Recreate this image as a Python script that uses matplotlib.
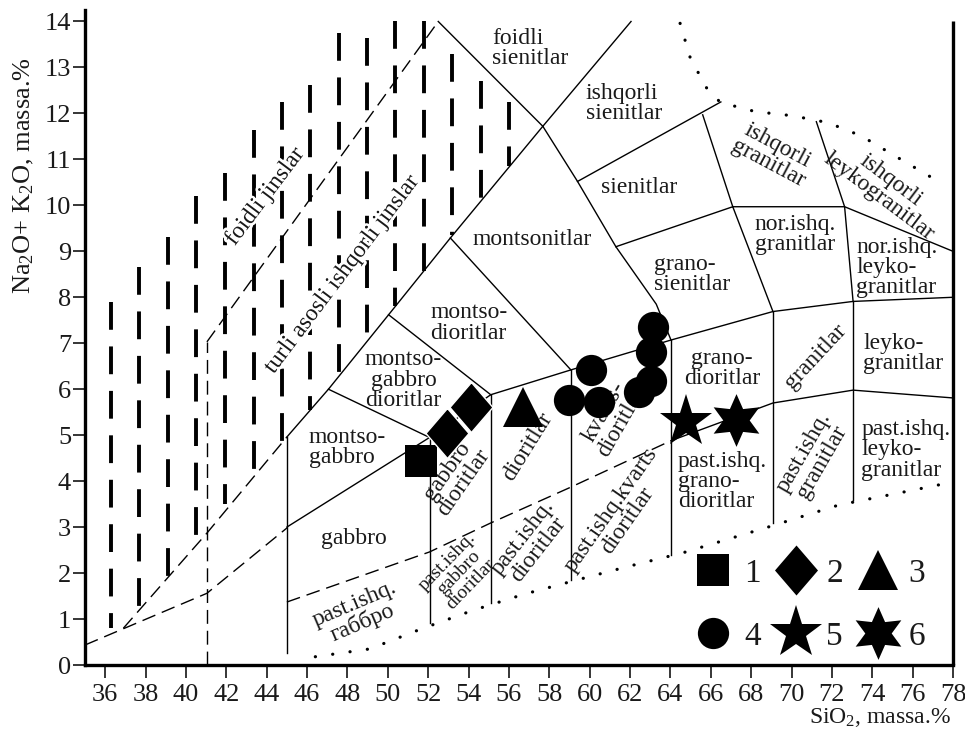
import matplotlib
matplotlib.use("Agg")
import matplotlib.pyplot as plt
from matplotlib.lines import Line2D
import matplotlib.patheffects as pe

plt.rcParams['font.family'] = ['Liberation Serif', 'DejaVu Serif']
plt.rcParams['mathtext.fontset'] = 'custom'
plt.rcParams['mathtext.rm'] = 'Liberation Serif'
plt.rcParams['mathtext.it'] = 'Liberation Serif:italic'
plt.rcParams['lines.scale_dashes'] = False

# ---------------- data: sample points ----------------
sq_x, sq_y = [51.65], [4.43]                      # 1
dia_x, dia_y = [52.95, 54.1], [5.04, 5.62]        # 2
tri_x, tri_y = [56.7], [5.61]                     # 3
cir_x = [60.06, 58.99, 60.47, 63.12, 63.04, 63.04, 62.46]   # 4
cir_y = [6.42, 5.77, 5.73, 7.36, 6.82, 6.17, 5.95]
st5_x, st5_y = [64.78], [5.29]                    # 5
st6_x, st6_y = [67.26], [5.33]                    # 6
legend_labels = ['1', '2', '3', '4', '5', '6']

# ---------------- data: field boundaries ----------------
# solid boundaries
alk_x = [45, 47.06, 50.04, 53.1, 57.68, 62.05]
alk_y = [4.96, 6.0, 7.62, 9.29, 11.72, 14.0]
foidsy_x = [52.5, 57.68]
foidsy_y = [14.0, 11.72]
monz_sy_x = [57.68, 59.4, 61.3, 63.3, 64.03]
monz_sy_y = [11.72, 10.52, 9.1, 7.85, 7.07]
alksy_x = [59.4, 66.5]
alksy_y = [10.52, 12.25]
sy_gsy_x = [61.3, 67.09]
sy_gsy_y = [9.1, 9.97]
norgr_x = [67.09, 72.63, 78]
norgr_y = [9.97, 9.97, 9.0]
gr_sy_x = [65.6, 67.09, 69.08]
gr_sy_y = [11.97, 9.97, 7.69]
leuco_x = [71.23, 72.63, 73.05]
leuco_y = [11.82, 9.97, 7.91]
md_mz_x = [53.1, 59.07]
md_mz_y = [9.29, 6.42]
mgd_md_x = [50.04, 55.1]
mgd_md_y = [7.62, 5.88]
mg_mgd_x = [47.06, 52.07]
mg_mgd_y = [6.0, 4.95]
subalk_x = [45, 52.07, 55.1, 59.07, 64.03, 69.08, 73.05, 78]
subalk_y = [3.0, 4.95, 5.88, 6.42, 7.07, 7.69, 7.91, 8.0]
lowalk_x = [64.03, 69.08, 73.05, 78]
lowalk_y = [4.88, 5.7, 5.98, 5.81]
vert_x = [45, 52.07, 55.1, 59.07, 64.03, 69.08, 73.05]
vert_top = [4.96, 4.95, 5.88, 6.42, 7.07, 7.69, 7.91]
vert_bot = [0.26, 0.91, 1.35, 1.85, 2.39, 3.09, 3.59]
# dashed boundaries
lowdash_x = [45, 52.07, 55.1, 59.07, 64.03]
lowdash_y = [1.37, 2.46, 3.09, 3.87, 4.88]
basdash_x = [35, 41.04, 45]
basdash_y = [0.435, 1.56, 2.98]
alkdash_x = [36.9, 41.04, 45]
alkdash_y = [0.8, 2.87, 4.96]
vdash_x = [41.04, 41.04]
vdash_y = [0, 7.03]
foiddash_x = [41.04, 52.5]
foiddash_y = [7.03, 14.0]
# dotted limits
dotlow_x = [46.41, 49.11, 51.63, 54.16, 56.75, 59.37, 61.96, 64.61, 68.91, 72.34, 75.86, 77.65]
dotlow_y = [0.18, 0.35, 0.78, 1.18, 1.54, 1.85, 2.15, 2.44, 3.01, 3.48, 3.79, 3.95]
dotup_x = [64.48, 64.99, 65.85, 66.48, 68.2, 70.04, 71.8, 73.46, 75.03, 77.35]
dotup_y = [13.96, 13.2, 12.51, 12.24, 12.04, 11.95, 11.8, 11.51, 11.1, 10.5]
# hatching of the foid field (vertical dashed columns)
hatch_x = [36.29, 37.69, 39.1, 40.5, 41.95, 43.35, 44.76, 46.17, 47.57, 48.97,
           50.38, 51.79, 53.2, 54.6, 56.0]
hatch_top = [7.9, 8.66, 9.32, 10.2, 10.7, 11.64, 12.25, 12.62, 13.75, 13.64,
             14.0, 14.0, 13.3, 12.7, 12.25]
hatch_bot = [0.8, 1.24, 1.92, 2.65, 3.5, 4.1, 4.85, 5.55, 6.3, 7.05,
             7.8, 8.55, 9.35, 10.1, 10.85]

x_ticks = list(range(36, 79, 2))
y_ticks = list(range(0, 15))

# ---------------- figure ----------------
fig = plt.figure(figsize=(9.65, 7.31), dpi=100)
ax = fig.add_axes([85 / 965, 1 - 665 / 731, (953 - 85) / 965, (665 - 10) / 731])
ax.set_xlim(35, 78)
ax.set_ylim(0, 14.25)

# hatching
for hx, ht, hb in zip(hatch_x, hatch_top, hatch_bot):
    ax.plot([hx, hx], [ht, hb], color='black', lw=2.8,
            linestyle=(0, (20, 12)), solid_capstyle='butt', dash_capstyle='butt', zorder=1)

solid_kw = dict(color='black', lw=1.0, zorder=2)
for xs, ys in [(alk_x, alk_y), (foidsy_x, foidsy_y), (monz_sy_x, monz_sy_y),
               (alksy_x, alksy_y), (sy_gsy_x, sy_gsy_y), (norgr_x, norgr_y),
               (gr_sy_x, gr_sy_y), (leuco_x, leuco_y), (md_mz_x, md_mz_y),
               (mgd_md_x, mgd_md_y), (mg_mgd_x, mg_mgd_y), (subalk_x, subalk_y),
               (lowalk_x, lowalk_y)]:
    ax.plot(xs, ys, **solid_kw)
for vx, vt, vb in zip(vert_x, vert_top, vert_bot):
    ax.plot([vx, vx], [vt, vb], **solid_kw)

dash_kw = dict(color='black', lw=1.0, linestyle=(0, (10, 5)), zorder=2)
for xs, ys in [(lowdash_x, lowdash_y), (basdash_x, basdash_y), (alkdash_x, alkdash_y),
               (vdash_x, vdash_y), (foiddash_x, foiddash_y)]:
    ax.plot(xs, ys, **dash_kw)

dot_kw = dict(color='black', lw=2.3, linestyle=(0, (0.1, 12.5)),
              dash_capstyle='round', zorder=2)
ax.plot(dotlow_x, dotlow_y, **dot_kw)
ax.plot(dotup_x, dotup_y, **dot_kw)

# right frame line
ax.plot([78, 78], [0, 14.0], color='black', lw=2.4, zorder=3, clip_on=False,
        solid_capstyle='butt')

# ---------------- labels ----------------
FS = 17
ls = 0.95
stroke = [pe.withStroke(linewidth=4, foreground='white')]
labels = [
    ("foidli\nsienitlar", 55.18, 13.42, 0, 'left', FS),
    ("ishqorli\nsienitlar", 59.81, 12.22, 0, 'left', FS),
    ("sienitlar", 62.46, 10.39, 0, 'center', FS),
    ("ishqorli\ngranitlar", 69.08, 11.1, -28, 'center', FS),
    ("ishqorli\nleykogranitlar", 74.62, 10.37, -37, 'center', FS),
    ("montsonitlar", 57.15, 9.26, 0, 'center', FS),
    ("nor.ishq.\ngranitlar", 68.17, 9.36, 0, 'left', FS),
    ("nor.ishq.\nleyko-\ngranitlar", 73.21, 8.65, 0, 'left', FS),
    ("grano-\nsienitlar", 63.2, 8.5, 0, 'left', FS),
    ("montso-\ndioritlar", 52.12, 7.44, 0, 'left', FS),
    ("montso-\ngabbro\ndioritlar", 50.78, 6.2, 0, 'center', FS),
    ("granitlar", 71.18, 6.71, 47, 'center', FS),
    ("leyko-\ngranitlar", 73.55, 6.77, 0, 'left', FS),
    ("grano-\ndioritlar", 66.55, 6.45, 0, 'center', FS),
    ("montso-\ngabbro", 46.08, 4.73, 0, 'left', FS),
    ("gabbro\ndioritlar", 53.36, 4.1, 55, 'center', FS),
    ("dioritlar", 56.92, 4.75, 58, 'center', FS),
    ("kvarts-\ndioritlar", 61.15, 5.4, 60, 'center', FS),
    ("past.ishq.\ngrano-\ndioritlar", 64.36, 3.99, 0, 'left', FS),
    ("past.ishq.\ngranitlar", 71.06, 4.53, 60, 'center', FS),
    ("past.ishq.\nleyko-\ngranitlar", 73.46, 4.68, 0, 'left', FS),
    ("gabbro", 48.32, 2.76, 0, 'center', FS),
    ("past.ishq.\nгаббро", 48.56, 1.12, 23, 'center', FS),
    ("past.ishq.\ngabbro\ndioritlar", 53.53, 2.0, 46, 'center', 14),
    ("past.ishq.\ndioritlar", 57.08, 2.65, 52, 'center', FS),
    ("past.ishq.kvarts\ndioritlar", 61.47, 3.26, 55, 'center', FS),
]
for txt, x, y, rot, ha, fs in labels:
    ax.text(x, y, txt, rotation=rot, ha=ha, va='center', fontsize=fs,
            linespacing=ls, multialignment=ha, color='#1a1a1a', zorder=3)

for txt, x, y in [("foidli jinslar", 43.93, 10.19),
                  ("turli asosli ishqorli jinslar", 47.74, 8.5)]:
    ax.text(x, y, txt, rotation=53, ha='center', va='center', fontsize=FS,
            color='#1a1a1a', zorder=3, path_effects=stroke)

# ---------------- markers ----------------
diamond = [(0, 1), (0.86, 0), (0, -1), (-0.86, 0), (0, 1)]
mk = dict(ls='none', color='black', zorder=5)
ax.plot(sq_x, sq_y, marker='s', ms=22.8, mew=0, **mk)
ax.plot(dia_x, dia_y, marker=diamond, ms=36, mec='white', mew=1.0, **mk)
ax.plot(tri_x, tri_y, marker='^', ms=29, mew=0, **mk)
ax.plot(cir_x, cir_y, marker='o', ms=22.5, mew=0, **mk)
ax.plot(st5_x, st5_y, marker='*', ms=40, mew=0, **mk)
ax.plot(st6_x, st6_y, marker=(6, 1, 0), ms=38, mew=0, **mk)

hdl = [
    Line2D([], [], marker='s', ms=22.8, mew=0, ls='none', color='black'),
    Line2D([], [], marker=diamond, ms=36, mew=0, ls='none', color='black'),
    Line2D([], [], marker='^', ms=29, mew=0, ls='none', color='black'),
    Line2D([], [], marker='o', ms=22.5, mew=0, ls='none', color='black'),
    Line2D([], [], marker='*', ms=40, mew=0, ls='none', color='black'),
    Line2D([], [], marker=(6, 1, 0), ms=38, mew=0, ls='none', color='black'),
]
order = [0, 3, 1, 4, 2, 5]
leg = ax.legend([hdl[i] for i in order], [legend_labels[i] for i in order],
                ncol=3, loc='lower right', bbox_to_anchor=(0.968, 0.02),
                frameon=False, fontsize=24, handlelength=1.0, handletextpad=0.42,
                columnspacing=0.55, labelspacing=0.98, borderpad=0, borderaxespad=0)
for t in leg.get_texts():
    t.set_color('#1a1a1a')

# ---------------- axes styling ----------------
for s in ['top', 'right']:
    ax.spines[s].set_visible(False)
for s in ['left', 'bottom']:
    ax.spines[s].set_linewidth(2.4)
ax.set_xticks(x_ticks)
ax.set_yticks(y_ticks)
ax.tick_params(axis='both', direction='out', length=9, width=1.1,
               labelsize=19, labelcolor='#1a1a1a')
ax.tick_params(axis='x', pad=5)
ax.tick_params(axis='y', pad=1)

fig.text(0.025, 0.76, 'Na$_2$O+ K$_2$O, massa.%', rotation=90, ha='center',
         va='center', fontsize=19, color='#1a1a1a')
fig.text(0.985, 0.018, 'SiO$_2$, massa.%', ha='right', va='center',
         fontsize=17, color='#1a1a1a')

fig.savefig('out.png', dpi=100, facecolor='white')
